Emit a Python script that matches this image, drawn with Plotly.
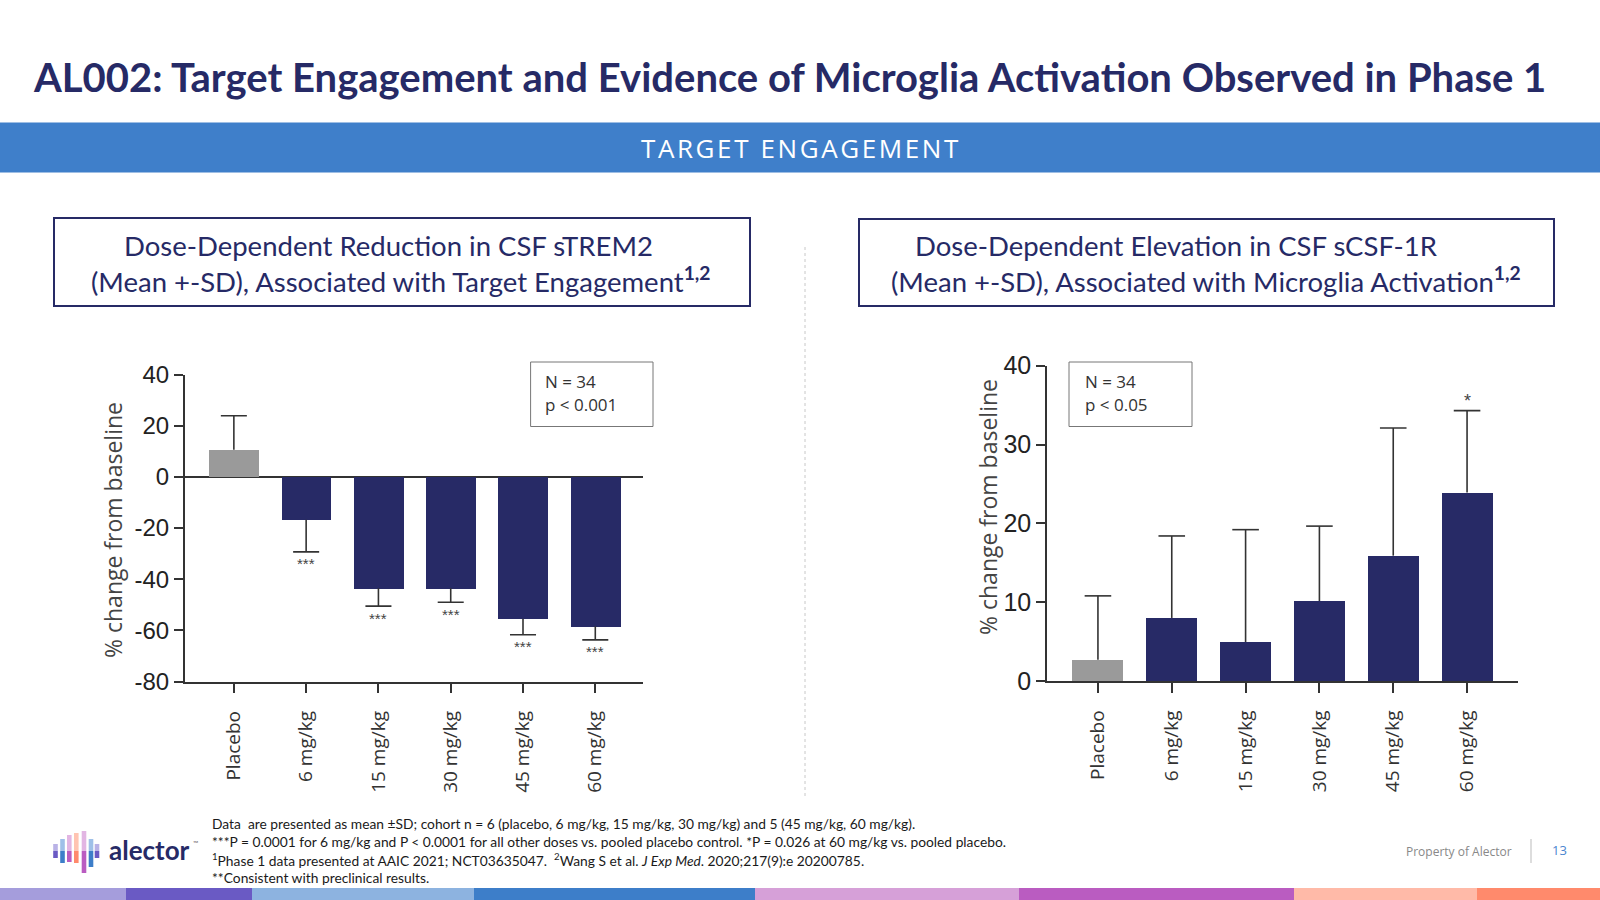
import plotly.graph_objects as go

# ---------------- data ----------------
categories = ["Placebo", "6 mg/kg", "15 mg/kg", "30 mg/kg", "45 mg/kg", "60 mg/kg"]

strem2_mean = [10.6, -16.8, -43.5, -43.5, -55.4, -58.4]
strem2_sd = [13.3, 12.5, 7.0, 5.5, 6.3, 5.3]
strem2_sig = ["", "***", "***", "***", "***", "***"]
strem2_ticks = [40, 20, 0, -20, -40, -60, -80]

scsf1r_mean = [2.7, 8.0, 4.95, 10.15, 15.9, 23.9]
scsf1r_sd = [8.1, 10.4, 14.25, 9.5, 16.2, 10.4]
scsf1r_sig = ["", "", "", "", "", "*"]
scsf1r_ticks = [0, 10, 20, 30, 40]

bar_colors = ["#9a9a9a", "#272a66", "#272a66", "#272a66", "#272a66", "#272a66"]

W, H = 1600, 900
NAVY = "#262a66"


def px(x):
    return x / W


def py(y):
    return 1 - y / H


fig = go.Figure()
xs = list(range(len(categories)))
CAP = 0.18


def add_chart(mean, sd, sig, xa, ya, star_size, star_shift):
    ex, ey = [], []
    for i, (m, s) in enumerate(zip(mean, sd)):
        end = m + s if m >= 0 else m - s
        ex += [i, i, None, i - CAP, i + CAP, None]
        ey += [m, end, None, end, end, None]
    fig.add_trace(go.Bar(x=xs, y=mean, width=0.69, marker=dict(color=bar_colors, line=dict(width=0)),
                         xaxis=xa, yaxis=ya, showlegend=False, hoverinfo="skip"))
    fig.add_trace(go.Scatter(x=ex, y=ey, mode="lines", line=dict(color="#333333", width=1.6),
                             xaxis=xa, yaxis=ya, showlegend=False, hoverinfo="skip"))
    for i, (m, s, t) in enumerate(zip(mean, sd, sig)):
        if not t:
            continue
        end = m + s if m >= 0 else m - s
        fig.add_annotation(x=i, y=end, xref=xa, yref=ya, text=t, showarrow=False,
                           yshift=star_shift if m >= 0 else -star_shift,
                           font=dict(family="Liberation Sans", size=star_size, color="#444444"))


add_chart(strem2_mean, strem2_sd, strem2_sig, "x", "y", 15, 12)
add_chart(scsf1r_mean, scsf1r_sd, scsf1r_sig, "x2", "y2", 18, 10)

axis_common = dict(showline=True, linecolor="#333333", linewidth=1.6, ticks="outside",
                   ticklen=10, tickwidth=1.6, tickcolor="#333333", showgrid=False, fixedrange=True)

fig.update_layout(
    width=W, height=H, margin=dict(l=0, r=0, t=0, b=0, pad=0, autoexpand=False),
    paper_bgcolor="white", plot_bgcolor="rgba(0,0,0,0)",
    bargap=0,
    xaxis=dict(axis_common, domain=[px(184.7), px(643)], range=[-0.68, 5.66],
               tickvals=xs, ticktext=categories, tickangle=-90, anchor="y", ticklabelstandoff=10,
               tickfont=dict(family="Open Sans", size=19, color="#333333"), zeroline=False),
    yaxis=dict(axis_common, domain=[py(681.6), py(374.5)], range=[-80, 40], anchor="x",
               tickvals=strem2_ticks, ticktext=[str(v) for v in strem2_ticks], ticklen=9,
               tickfont=dict(family="Liberation Sans", size=24, color="#222222"),
               zeroline=True, zerolinecolor="#333333", zerolinewidth=1.6),
    xaxis2=dict(axis_common, domain=[px(1047), px(1518)], range=[-0.69, 5.69],
                tickvals=xs, ticktext=categories, tickangle=-90, anchor="y2", ticklabelstandoff=10,
                tickfont=dict(family="Open Sans", size=19, color="#333333"), zeroline=False),
    yaxis2=dict(axis_common, domain=[py(681), py(365.7)], range=[0, 40], anchor="x2",
                tickvals=scsf1r_ticks, ticktext=[str(v) for v in scsf1r_ticks], ticklen=9,
                tickfont=dict(family="Liberation Sans", size=25, color="#222222"), zeroline=False),
)

shapes = []
ann = []


def rect(x0, y0, x1, y1, **kw):
    shapes.append(dict(type="rect", xref="paper", yref="paper", x0=px(x0), x1=px(x1),
                       y0=py(y1), y1=py(y0), layer="below", **kw))


def line(x0, y0, x1, y1, **kw):
    shapes.append(dict(type="line", xref="paper", yref="paper", x0=px(x0), x1=px(x1),
                       y0=py(y0), y1=py(y1), **kw))


def text(x, y, s, size, color, family="Lato", xanchor="center", yanchor="middle", **kw):
    ann.append(dict(x=px(x), y=py(y), xref="paper", yref="paper", text=s, showarrow=False,
                    xanchor=xanchor, yanchor=yanchor, font=dict(family=family, size=size, color=color), **kw))


# title
text(31, 77, "<b>AL002: Target Engagement and Evidence of Microglia Activation Observed in Phase 1</b>",
     40, NAVY, xanchor="left")

# banner
rect(0, 122.5, 1600, 172.5, fillcolor="#3f7fca", line=dict(width=0))
text(800, 148, "\u200a".join("TARGET ENGAGEMENT"), 26, "white", family="Open Sans")

# subtitle boxes
rect(54, 218, 750, 306, fillcolor="rgba(0,0,0,0)", line=dict(color=NAVY, width=2))
rect(859, 219, 1554, 306, fillcolor="rgba(0,0,0,0)", line=dict(color=NAVY, width=2))
text(388, 246, "Dose-Dependent Reduction in CSF sTREM2", 27.5, NAVY)
text(401, 279, "(Mean +-SD), Associated with Target Engagement<sup><b>1,2</b></sup>", 27.5, NAVY)
text(1176, 246, "Dose-Dependent Elevation in CSF sCSF-1R", 27.5, NAVY)
text(1206, 279, "(Mean +-SD), Associated with Microglia Activation<sup><b>1,2</b></sup>", 27.5, NAVY)

# separator
line(805, 247, 805, 796, line=dict(color="#c8c8c8", width=1, dash="dot"))

# N boxes
rect(530.6, 362, 653, 426.5, fillcolor="white", line=dict(color="#777777", width=1))
text(543, 381, "N = 34", 17, "#333333", family="Open Sans", xanchor="left")
text(543, 405, "p < 0.001", 17, "#333333", family="Open Sans", xanchor="left")
rect(1069, 362, 1192, 426.5, fillcolor="white", line=dict(color="#777777", width=1))
text(1083, 381, "N = 34", 17, "#333333", family="Open Sans", xanchor="left")
text(1083, 405, "p < 0.05", 17, "#333333", family="Open Sans", xanchor="left")

# y-axis titles
text(113, 530, "% change from baseline", 23, "#444444", family="Open Sans", textangle=-90)
text(988, 507, "% change from baseline", 23, "#444444", family="Open Sans", textangle=-90)

# footnotes
foot = [
    "Data  are presented as mean ±SD; cohort n = 6 (placebo, 6 mg/kg, 15 mg/kg, 30 mg/kg) and 5 (45 mg/kg, 60 mg/kg).",
    "***P = 0.0001 for 6 mg/kg and P < 0.0001 for all other doses vs. pooled placebo control. *P = 0.026 at 60 mg/kg vs. pooled placebo.",
    "<sup>1</sup>Phase 1 data presented at AAIC 2021; NCT03635047.  <sup>2</sup>Wang S et al. <i>J Exp Med</i>. 2020;217(9):e 20200785.",
    "**Consistent with preclinical results.",
]
for i, f in enumerate(foot):
    text(210, 823.5 + i * 18, f, 13.8, "#1a1a1a", xanchor="left")

# logo
logo_bars = [
    (55.5, 844, 858, "#b9b2e6", "#6a5ac4"),
    (62.5, 839, 863, "#9fc0e8", "#3d7ec9"),
    (69.3, 835, 862, "#e2b5e3", "#ba5cc1"),
    (76.3, 833, 863, "#ffc4b2", "#ff8a6c"),
    (84, 831, 873, "#e2b5e3", "#ba5cc1"),
    (91, 839, 867, "#9fc0e8", "#3d7ec9"),
    (97, 844, 858, "#b9b2e6", "#6a5ac4"),
]
for x, y0, y1, c_top, c_bot in logo_bars:
    rect(x - 2.3, y0, x + 2.3, 851, fillcolor=c_top, line=dict(width=0))
    rect(x - 2.3, 851, x + 2.3, y1, fillcolor=c_bot, line=dict(width=0))
text(107, 850, "<b>alector</b>", 26, NAVY, family="Lato", xanchor="left")
text(191, 843, "™", 7, "#666666", xanchor="left")

# page footer
text(1514, 851, "Property of Alector", 12, "#888888", family="Open Sans", xanchor="right")
line(1531, 839, 1531, 863, line=dict(color="#bbbbbb", width=1))
text(1559, 850, "13", 13, "#4a86d0", family="Open Sans")

# bottom colour strip
strip = [(0, 126, "#a59ddc"), (126, 252, "#6a5ac4"), (252, 474, "#8db3e0"), (474, 755, "#3d7ec9"),
         (755, 1019, "#d6a0d8"), (1019, 1294, "#ba5cc1"), (1294, 1477, "#ffbaa8"), (1477, 1600, "#ff8a6c")]
for x0, x1, c in strip:
    rect(x0, 888, x1, 900, fillcolor=c, line=dict(width=0))

fig.update_layout(shapes=shapes, annotations=list(fig.layout.annotations) + ann)

post = (
    "document.documentElement.style.margin='0';document.documentElement.style.padding='0';"
    "document.documentElement.style.overflow='hidden';document.documentElement.style.height='900px';"
    "document.body.style.margin='0';document.body.style.padding='0';document.body.style.overflow='hidden';"
    "document.body.style.height='900px';"
    "var g=document.getElementsByClassName('plotly-graph-div')[0];"
    "g.style.position='fixed';g.style.left='0px';g.style.top='0px';"
)
fig.write_html("out.html", config={"displayModeBar": False}, post_script=post)
